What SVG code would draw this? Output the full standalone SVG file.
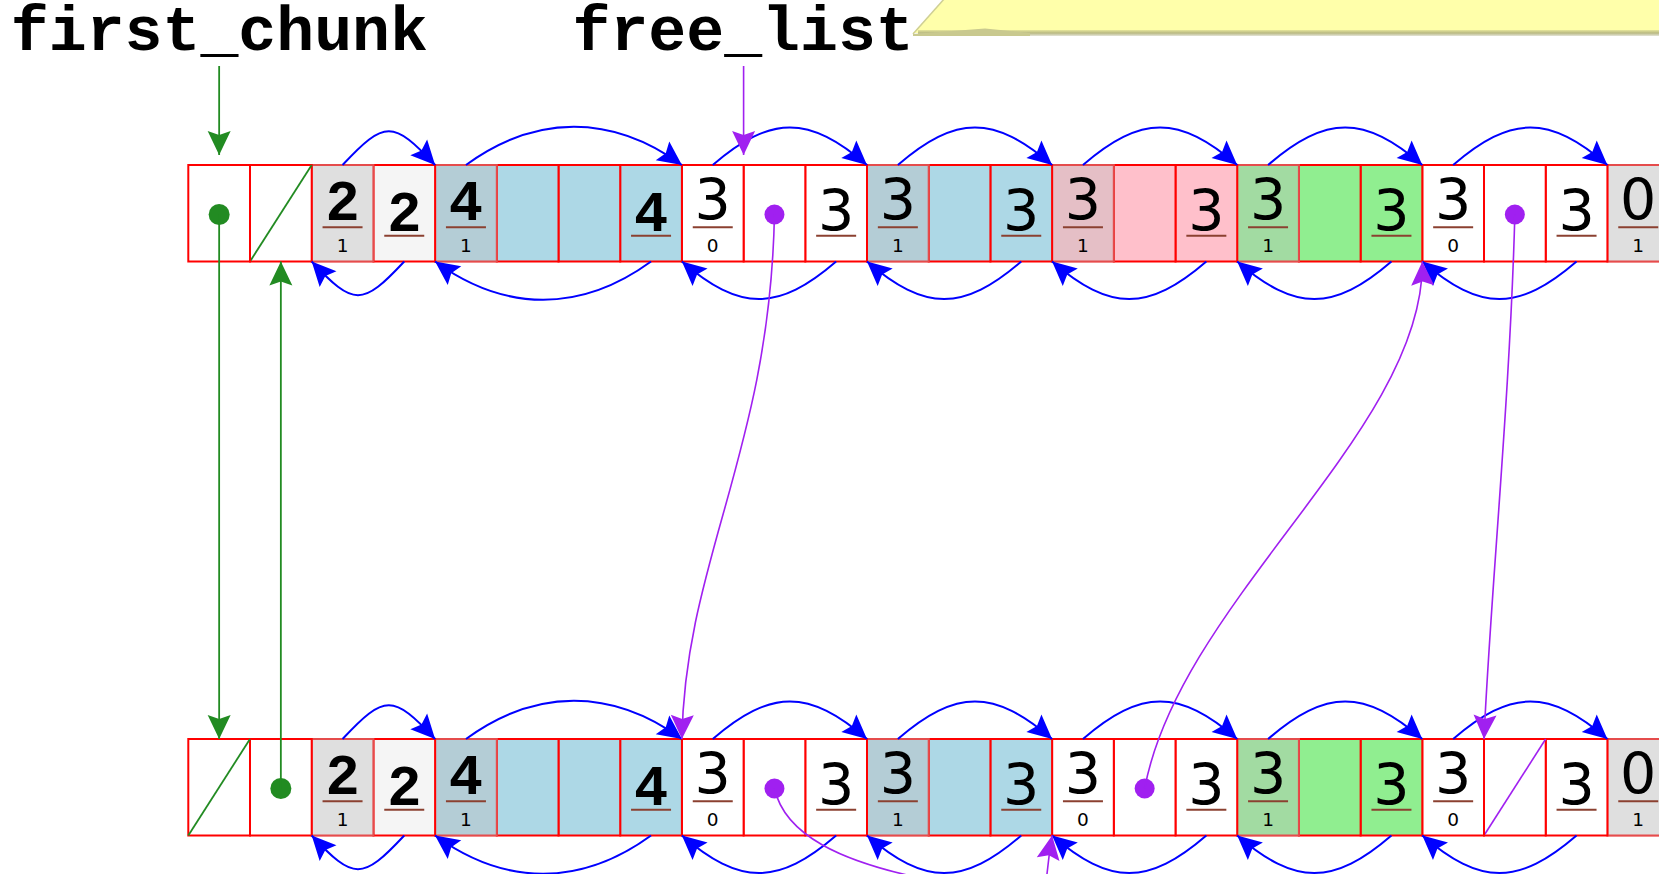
<svg xmlns="http://www.w3.org/2000/svg" width="1659" height="874" viewBox="0 0 1659 874">
<style>
.c{stroke:#f00;stroke-width:2}
.w{fill:#fff}.ws{fill:#f5f5f5}.lb{fill:#add8e6}.pk{fill:#ffc0cb}.lg{fill:#90ee90}
.ov{fill:#bebebe;fill-opacity:.4}
.d2{font-family:"Liberation Mono",monospace;font-weight:bold;font-size:57px;text-anchor:middle;fill:#000}
.d3{font-family:"DejaVu Sans",sans-serif;font-size:57px;text-anchor:middle;fill:#000}
.fl{font-family:"DejaVu Sans",sans-serif;font-size:18.5px;text-anchor:middle;fill:#000}
.ul{stroke:#8b4030;stroke-width:2}
.bl{fill:none;stroke:#00f;stroke-width:2;marker-end:url(#ab)}
.pu{fill:none;stroke:#a020f0;stroke-width:1.6}
.pua{fill:none;stroke:#a020f0;stroke-width:1.6;marker-end:url(#ap)}
.gr{fill:none;stroke:#228b22;stroke-width:1.8}
.gra{fill:none;stroke:#228b22;stroke-width:1.8;marker-end:url(#ag)}
.gd{fill:#228b22}.pd{fill:#a020f0}
.lbl{font-family:"Liberation Mono","DejaVu Sans Mono",monospace;font-weight:bold;font-size:63.2px;fill:#000}
</style>
<defs>
<marker id="ab" markerUnits="userSpaceOnUse" markerWidth="28" markerHeight="26" viewBox="-26 -13 28 26" refX="0" refY="0" orient="auto"><path d="M0,0 L-24,-11.5 L-20,0 L-24,11.5 Z" fill="#00f"/></marker>
<marker id="ap" markerUnits="userSpaceOnUse" markerWidth="28" markerHeight="26" viewBox="-26 -13 28 26" refX="0" refY="0" orient="auto"><path d="M0,0 L-24,-11.5 L-20,0 L-24,11.5 Z" fill="#a020f0"/></marker>
<marker id="ag" markerUnits="userSpaceOnUse" markerWidth="28" markerHeight="26" viewBox="-26 -13 28 26" refX="0" refY="0" orient="auto"><path d="M0,0 L-24,-11.5 L-20,0 L-24,11.5 Z" fill="#228b22"/></marker>
<linearGradient id="sh" x1="0" y1="0" x2="0" y2="1"><stop offset="0" stop-color="#e6e69a"/><stop offset="0.5" stop-color="#b9b982"/><stop offset="1" stop-color="#e4e4d8"/></linearGradient>
</defs>
<rect width="1659" height="874" fill="#fff"/>

<g id="callout">
<polygon points="945,-2 913,33 1659,33 1659,-2" fill="#ffffaa"/>
<rect x="918" y="30" width="741" height="6" fill="url(#sh)"/>
<polygon points="913,34 985,28.5 1030,33 1030,36 913,36" fill="#c9c98f"/>
<line x1="945" y1="-2" x2="913" y2="34" stroke="#cfcf95" stroke-width="1.5"/>
</g>

<g id="labels">
<text class="lbl" x="10.8" y="50">first_chunk</text>
<text class="lbl" x="572.5" y="50">free_list</text>
</g>

<g id="row-top">
<g id="t23"><rect class="c ws" x="1607.4" y="165" width="61.7" height="96.5"/><rect class="ov" x="1606.4" y="164" width="63.7" height="98.5"/><text class="d3" x="1638.25" y="220">0</text><line class="ul" x1="1618.25" y1="227.3" x2="1658.25" y2="227.3"/><text class="fl" x="1638.25" y="251.5">1</text></g>
<g id="t22"><rect class="c w" x="1545.7" y="165" width="61.7" height="96.5"/><text class="d3" x="1576.55" y="230.7">3</text><line class="ul" x1="1556.55" y1="235.7" x2="1596.55" y2="235.7"/></g>
<g id="t21"><rect class="c w" x="1484" y="165" width="61.7" height="96.5"/><circle class="pd" cx="1514.85" cy="214.5" r="10"/></g>
<g id="t20"><rect class="c w" x="1422.3" y="165" width="61.7" height="96.5"/><text class="d3" x="1453.15" y="220">3</text><line class="ul" x1="1433.15" y1="227.3" x2="1473.15" y2="227.3"/><text class="fl" x="1453.15" y="251.5">0</text></g>
<g id="t19"><rect class="c lg" x="1360.6" y="165" width="61.7" height="96.5"/><text class="d3" x="1391.45" y="230.7">3</text><line class="ul" x1="1371.45" y1="235.7" x2="1411.45" y2="235.7"/></g>
<g id="t18"><rect class="c lg" x="1298.9" y="165" width="61.7" height="96.5"/></g>
<g id="t17"><rect class="c lg" x="1237.2" y="165" width="61.7" height="96.5"/><rect class="ov" x="1236.2" y="164" width="63.7" height="98.5"/><text class="d3" x="1268.05" y="220">3</text><line class="ul" x1="1248.05" y1="227.3" x2="1288.05" y2="227.3"/><text class="fl" x="1268.05" y="251.5">1</text></g>
<g id="t16"><rect class="c pk" x="1175.5" y="165" width="61.7" height="96.5"/><text class="d3" x="1206.35" y="230.7">3</text><line class="ul" x1="1186.35" y1="235.7" x2="1226.35" y2="235.7"/></g>
<g id="t15"><rect class="c pk" x="1113.8" y="165" width="61.7" height="96.5"/></g>
<g id="t14"><rect class="c pk" x="1052.1" y="165" width="61.7" height="96.5"/><rect class="ov" x="1051.1" y="164" width="63.7" height="98.5"/><text class="d3" x="1082.95" y="220">3</text><line class="ul" x1="1062.95" y1="227.3" x2="1102.95" y2="227.3"/><text class="fl" x="1082.95" y="251.5">1</text></g>
<g id="t13"><rect class="c lb" x="990.4" y="165" width="61.7" height="96.5"/><text class="d3" x="1021.25" y="230.7">3</text><line class="ul" x1="1001.25" y1="235.7" x2="1041.25" y2="235.7"/></g>
<g id="t12"><rect class="c lb" x="928.7" y="165" width="61.7" height="96.5"/></g>
<g id="t11"><rect class="c lb" x="867" y="165" width="61.7" height="96.5"/><rect class="ov" x="866" y="164" width="63.7" height="98.5"/><text class="d3" x="897.85" y="220">3</text><line class="ul" x1="877.85" y1="227.3" x2="917.85" y2="227.3"/><text class="fl" x="897.85" y="251.5">1</text></g>
<g id="t10"><rect class="c w" x="805.3" y="165" width="61.7" height="96.5"/><text class="d3" x="836.15" y="230.7">3</text><line class="ul" x1="816.15" y1="235.7" x2="856.15" y2="235.7"/></g>
<g id="t9"><rect class="c w" x="743.6" y="165" width="61.7" height="96.5"/><circle class="pd" cx="774.45" cy="214.5" r="10"/></g>
<g id="t8"><rect class="c w" x="681.9" y="165" width="61.7" height="96.5"/><text class="d3" x="712.75" y="220">3</text><line class="ul" x1="692.75" y1="227.3" x2="732.75" y2="227.3"/><text class="fl" x="712.75" y="251.5">0</text></g>
<g id="t7"><rect class="c lb" x="620.2" y="165" width="61.7" height="96.5"/><text class="d2" x="651.05" y="230.7">4</text><line class="ul" x1="631.05" y1="235.7" x2="671.05" y2="235.7"/></g>
<g id="t6"><rect class="c lb" x="558.5" y="165" width="61.7" height="96.5"/></g>
<g id="t5"><rect class="c lb" x="496.8" y="165" width="61.7" height="96.5"/></g>
<g id="t4"><rect class="c lb" x="435.1" y="165" width="61.7" height="96.5"/><rect class="ov" x="434.1" y="164" width="63.7" height="98.5"/><text class="d2" x="465.95" y="220">4</text><line class="ul" x1="445.95" y1="227.3" x2="485.95" y2="227.3"/><text class="fl" x="465.95" y="251.5">1</text></g>
<g id="t3"><rect class="c ws" x="373.4" y="165" width="61.7" height="96.5"/><text class="d2" x="404.25" y="230.7">2</text><line class="ul" x1="384.25" y1="235.7" x2="424.25" y2="235.7"/></g>
<g id="t2"><rect class="c ws" x="311.7" y="165" width="61.7" height="96.5"/><rect class="ov" x="310.7" y="164" width="63.7" height="98.5"/><text class="d2" x="342.55" y="220">2</text><line class="ul" x1="322.55" y1="227.3" x2="362.55" y2="227.3"/><text class="fl" x="342.55" y="251.5">1</text></g>
<g id="t1"><rect class="c w" x="250" y="165" width="61.7" height="96.5"/><line class="gr" x1="250" y1="261.5" x2="311.7" y2="165"/></g>
<g id="t0"><rect class="c w" x="188.3" y="165" width="61.7" height="96.5"/><circle class="gd" cx="219.15" cy="214.5" r="10.5"/></g>
</g>

<g id="row-bottom" transform="translate(0,574)">
<g id="b23"><rect class="c ws" x="1607.4" y="165" width="61.7" height="96.5"/><rect class="ov" x="1606.4" y="164" width="63.7" height="98.5"/><text class="d3" x="1638.25" y="220">0</text><line class="ul" x1="1618.25" y1="227.3" x2="1658.25" y2="227.3"/><text class="fl" x="1638.25" y="251.5">1</text></g>
<g id="b22"><rect class="c w" x="1545.7" y="165" width="61.7" height="96.5"/><text class="d3" x="1576.55" y="230.7">3</text><line class="ul" x1="1556.55" y1="235.7" x2="1596.55" y2="235.7"/></g>
<g id="b21"><rect class="c w" x="1484" y="165" width="61.7" height="96.5"/><line class="pu" x1="1484" y1="261.5" x2="1545.7" y2="165"/></g>
<g id="b20"><rect class="c w" x="1422.3" y="165" width="61.7" height="96.5"/><text class="d3" x="1453.15" y="220">3</text><line class="ul" x1="1433.15" y1="227.3" x2="1473.15" y2="227.3"/><text class="fl" x="1453.15" y="251.5">0</text></g>
<g id="b19"><rect class="c lg" x="1360.6" y="165" width="61.7" height="96.5"/><text class="d3" x="1391.45" y="230.7">3</text><line class="ul" x1="1371.45" y1="235.7" x2="1411.45" y2="235.7"/></g>
<g id="b18"><rect class="c lg" x="1298.9" y="165" width="61.7" height="96.5"/></g>
<g id="b17"><rect class="c lg" x="1237.2" y="165" width="61.7" height="96.5"/><rect class="ov" x="1236.2" y="164" width="63.7" height="98.5"/><text class="d3" x="1268.05" y="220">3</text><line class="ul" x1="1248.05" y1="227.3" x2="1288.05" y2="227.3"/><text class="fl" x="1268.05" y="251.5">1</text></g>
<g id="b16"><rect class="c w" x="1175.5" y="165" width="61.7" height="96.5"/><text class="d3" x="1206.35" y="230.7">3</text><line class="ul" x1="1186.35" y1="235.7" x2="1226.35" y2="235.7"/></g>
<g id="b15"><rect class="c w" x="1113.8" y="165" width="61.7" height="96.5"/><circle class="pd" cx="1144.65" cy="214.5" r="10"/></g>
<g id="b14"><rect class="c w" x="1052.1" y="165" width="61.7" height="96.5"/><text class="d3" x="1082.95" y="220">3</text><line class="ul" x1="1062.95" y1="227.3" x2="1102.95" y2="227.3"/><text class="fl" x="1082.95" y="251.5">0</text></g>
<g id="b13"><rect class="c lb" x="990.4" y="165" width="61.7" height="96.5"/><text class="d3" x="1021.25" y="230.7">3</text><line class="ul" x1="1001.25" y1="235.7" x2="1041.25" y2="235.7"/></g>
<g id="b12"><rect class="c lb" x="928.7" y="165" width="61.7" height="96.5"/></g>
<g id="b11"><rect class="c lb" x="867" y="165" width="61.7" height="96.5"/><rect class="ov" x="866" y="164" width="63.7" height="98.5"/><text class="d3" x="897.85" y="220">3</text><line class="ul" x1="877.85" y1="227.3" x2="917.85" y2="227.3"/><text class="fl" x="897.85" y="251.5">1</text></g>
<g id="b10"><rect class="c w" x="805.3" y="165" width="61.7" height="96.5"/><text class="d3" x="836.15" y="230.7">3</text><line class="ul" x1="816.15" y1="235.7" x2="856.15" y2="235.7"/></g>
<g id="b9"><rect class="c w" x="743.6" y="165" width="61.7" height="96.5"/><circle class="pd" cx="774.45" cy="214.5" r="10"/></g>
<g id="b8"><rect class="c w" x="681.9" y="165" width="61.7" height="96.5"/><text class="d3" x="712.75" y="220">3</text><line class="ul" x1="692.75" y1="227.3" x2="732.75" y2="227.3"/><text class="fl" x="712.75" y="251.5">0</text></g>
<g id="b7"><rect class="c lb" x="620.2" y="165" width="61.7" height="96.5"/><text class="d2" x="651.05" y="230.7">4</text><line class="ul" x1="631.05" y1="235.7" x2="671.05" y2="235.7"/></g>
<g id="b6"><rect class="c lb" x="558.5" y="165" width="61.7" height="96.5"/></g>
<g id="b5"><rect class="c lb" x="496.8" y="165" width="61.7" height="96.5"/></g>
<g id="b4"><rect class="c lb" x="435.1" y="165" width="61.7" height="96.5"/><rect class="ov" x="434.1" y="164" width="63.7" height="98.5"/><text class="d2" x="465.95" y="220">4</text><line class="ul" x1="445.95" y1="227.3" x2="485.95" y2="227.3"/><text class="fl" x="465.95" y="251.5">1</text></g>
<g id="b3"><rect class="c ws" x="373.4" y="165" width="61.7" height="96.5"/><text class="d2" x="404.25" y="230.7">2</text><line class="ul" x1="384.25" y1="235.7" x2="424.25" y2="235.7"/></g>
<g id="b2"><rect class="c ws" x="311.7" y="165" width="61.7" height="96.5"/><rect class="ov" x="310.7" y="164" width="63.7" height="98.5"/><text class="d2" x="342.55" y="220">2</text><line class="ul" x1="322.55" y1="227.3" x2="362.55" y2="227.3"/><text class="fl" x="342.55" y="251.5">1</text></g>
<g id="b1"><rect class="c w" x="250" y="165" width="61.7" height="96.5"/><circle class="gd" cx="280.85" cy="214.5" r="10.5"/></g>
<g id="b0"><rect class="c w" x="188.3" y="165" width="61.7" height="96.5"/><line class="gr" x1="188.3" y1="261.5" x2="250" y2="165"/></g>
</g>

<g id="connectors">
<g id="links-top">
<path class="bl" d="M342.55,165 C384.55,120 393.1,120 435.1,165"/>
<path class="bl" d="M465.95,165 C535.95,114 611.9,114 681.9,165"/>
<path class="bl" d="M712.75,165 C770.75,115 809,115 867,165"/>
<path class="bl" d="M897.85,165 C955.85,115 994.1,115 1052.1,165"/>
<path class="bl" d="M1082.95,165 C1140.95,115 1179.2,115 1237.2,165"/>
<path class="bl" d="M1268.05,165 C1326.05,115 1364.3,115 1422.3,165"/>
<path class="bl" d="M1453.15,165 C1511.15,115 1549.4,115 1607.4,165"/>
<path class="bl" d="M404.25,261.5 C362.25,306.5 353.7,306.5 311.7,261.5"/>
<path class="bl" d="M651.05,261.5 C581.05,312.5 505.1,312.5 435.1,261.5"/>
<path class="bl" d="M836.15,261.5 C778.15,311.5 739.9,311.5 681.9,261.5"/>
<path class="bl" d="M1021.25,261.5 C963.25,311.5 925,311.5 867,261.5"/>
<path class="bl" d="M1206.35,261.5 C1148.35,311.5 1110.1,311.5 1052.1,261.5"/>
<path class="bl" d="M1391.45,261.5 C1333.45,311.5 1295.2,311.5 1237.2,261.5"/>
<path class="bl" d="M1576.55,261.5 C1518.55,311.5 1480.3,311.5 1422.3,261.5"/>
</g>
<g id="links-bottom" transform="translate(0,574)">
<path class="bl" d="M342.55,165 C384.55,120 393.1,120 435.1,165"/>
<path class="bl" d="M465.95,165 C535.95,114 611.9,114 681.9,165"/>
<path class="bl" d="M712.75,165 C770.75,115 809,115 867,165"/>
<path class="bl" d="M897.85,165 C955.85,115 994.1,115 1052.1,165"/>
<path class="bl" d="M1082.95,165 C1140.95,115 1179.2,115 1237.2,165"/>
<path class="bl" d="M1268.05,165 C1326.05,115 1364.3,115 1422.3,165"/>
<path class="bl" d="M1453.15,165 C1511.15,115 1549.4,115 1607.4,165"/>
<path class="bl" d="M404.25,261.5 C362.25,306.5 353.7,306.5 311.7,261.5"/>
<path class="bl" d="M651.05,261.5 C581.05,312.5 505.1,312.5 435.1,261.5"/>
<path class="bl" d="M836.15,261.5 C778.15,311.5 739.9,311.5 681.9,261.5"/>
<path class="bl" d="M1021.25,261.5 C963.25,311.5 925,311.5 867,261.5"/>
<path class="bl" d="M1206.35,261.5 C1148.35,311.5 1110.1,311.5 1052.1,261.5"/>
<path class="bl" d="M1391.45,261.5 C1333.45,311.5 1295.2,311.5 1237.2,261.5"/>
<path class="bl" d="M1576.55,261.5 C1518.55,311.5 1480.3,311.5 1422.3,261.5"/>
</g>
<g id="green-pointers">
<path class="gra" d="M219.15,66 L219.15,155"/>
<path class="gra" d="M219.15,214.5 L219.15,739"/>
<path class="gra" d="M280.85,788.5 L280.85,261.5"/>
</g>
<g id="purple-pointers">
<path class="pua" d="M743.6,66 L743.6,155"/>
<path class="pua" d="M774.45,214.5 C770,450 685,560 681.9,739"/>
<path class="pua" d="M1514.85,214.5 C1510,400 1490,600 1484,739"/>
<path class="pua" d="M1144.65,788.5 C1180,600 1425,430 1422.3,261.5"/>
<path class="pu" d="M774.45,788.5 C785,835 840,862 930,880"/>
<path class="pua" d="M1046,885 Q1048,860 1052.1,835.5"/>
</g>
</g>
</svg>
